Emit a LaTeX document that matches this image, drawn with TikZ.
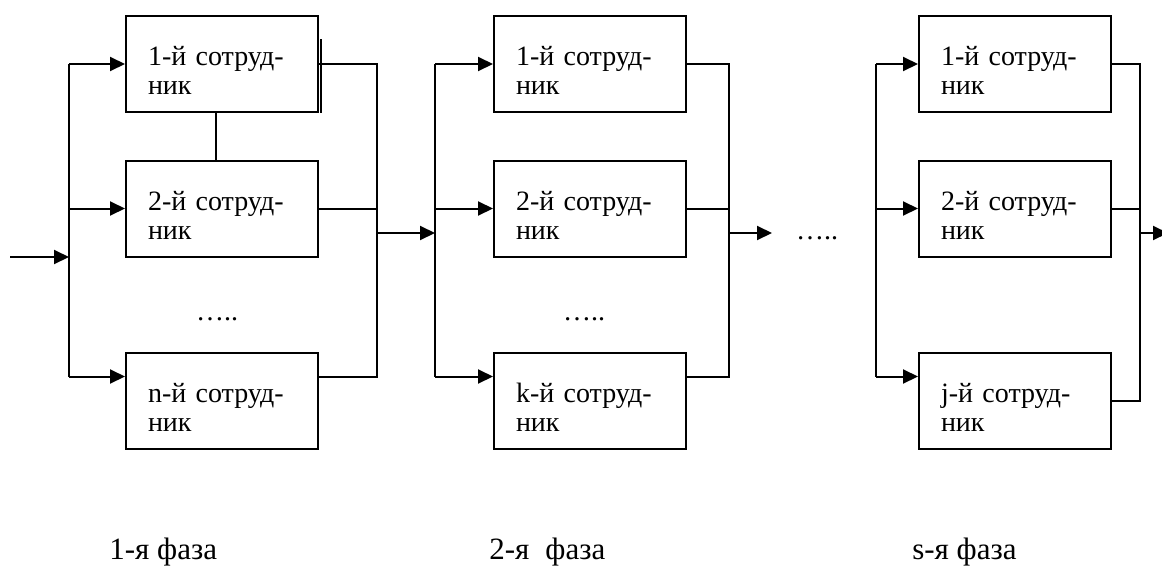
\documentclass[tikz,border=0pt]{standalone}
\usepackage{fontspec}
\setmainfont{Liberation Serif}
\usepackage{tikz}
\usetikzlibrary{positioning, calc, arrows.meta}

% text of one box
\newcommand{\sotr}[1]{\rule{0pt}{32pt}#1-й сотруд-\\ник}

\begin{document}
\begin{tikzpicture}[x = 1pt, y = -1pt, line width = 2pt,
		staff/.style = {draw, rectangle, minimum width = 192pt, minimum height = 96pt, text width = 148pt, inner xsep = 22pt, inner ysep = 0pt, align = left, font = \fontsize{28}{29}\selectfont},
		arr/.style = {-{Triangle[length = 15pt, width = 14pt]}},
		phase/.style = {anchor = base west, font = \fontsize{31}{36}\selectfont},
		gap/.style = {anchor = base, font = \fontsize{28}{30}\selectfont}]
		\useasboundingbox (0,0) rectangle (1162,565);

		% phase 1
		\node[staff] (p1a) at (222,64) {\sotr{1}};
		\node[staff] (p1b) at (222,208.5) {\sotr{2}};
		\node[staff] (p1n) at (222,400.5) {\sotr{n}};
		\node[gap] (d1) at (217,320) {…..};

		% phase 2
		\node[staff] (p2a) at (590,64) {\sotr{1}};
		\node[staff] (p2b) at (590,208.5) {\sotr{2}};
		\node[staff] (p2k) at (590,400.5) {\sotr{k}};
		\node[gap] (d2) at (584,320) {…..};

		% phase s
		\node[staff] (p3a) at (1015,64) {\sotr{1}};
		\node[staff] (p3b) at (1015,208.5) {\sotr{2}};
		\node[staff] (p3j) at (1015,400.5) {\sotr{j}};
		\node[gap] (d3) at (817,239) {…..};

		% buses
		\coordinate (start) at (10,257);
		\coordinate (bus1) at (69,257);
		\coordinate (out1) at (377,233);
		\coordinate (bus2) at (435,233);
		\coordinate (out2) at (729,233);
		\coordinate (end2) at (772,233);
		\coordinate (bus3) at (876,233);
		\coordinate (out3) at (1140,233);
		\coordinate (end3) at (1168,233);

		\coordinate (p1n-in) at ([yshift=-25pt]p1n.north west);
		\coordinate (p1n-out) at ([yshift=-25pt]p1n.north east);
		\coordinate (p2k-in) at ([yshift=-25pt]p2k.north west);
		\coordinate (p2k-out) at ([yshift=-25pt]p2k.north east);
		\coordinate (p3j-in) at ([yshift=-25pt]p3j.north west);

		% phase 1 wiring
		\draw[arr] (start) -- (bus1);
		\draw (bus1 |- p1a.west) -- (bus1 |- p1n-in);
		\draw[arr] (bus1 |- p1a.west) -- (p1a.west);
		\draw[arr] (bus1 |- p1b.west) -- (p1b.west);
		\draw[arr] (bus1 |- p1n-in) -- (p1n-in);
		\draw (p1a.east) -- (out1 |- p1a.east) -- (out1 |- p1n-out) -- (p1n-out);
		\draw (p1b.east) -- (out1 |- p1b.east);
		\draw ([xshift=-6pt]p1a.south) -- ([xshift=-6pt]p1b.north);
		\draw ([xshift=2pt,yshift=-24pt]p1a.north east) -- ([xshift=2pt]p1a.south east);
		\draw[arr] (out1) -- (bus2);

		% phase 2 wiring
		\draw (bus2 |- p2a.west) -- (bus2 |- p2k-in);
		\draw[arr] (bus2 |- p2a.west) -- (p2a.west);
		\draw[arr] (bus2 |- p2b.west) -- (p2b.west);
		\draw[arr] (bus2 |- p2k-in) -- (p2k-in);
		\draw (p2a.east) -- (out2 |- p2a.east) -- (out2 |- p2k-out) -- (p2k-out);
		\draw (p2b.east) -- (out2 |- p2b.east);
		\draw[arr] (out2) -- (end2);

		% phase s wiring
		\draw (bus3 |- p3a.west) -- (bus3 |- p3j-in);
		\draw[arr] (bus3 |- p3a.west) -- (p3a.west);
		\draw[arr] (bus3 |- p3b.west) -- (p3b.west);
		\draw[arr] (bus3 |- p3j-in) -- (p3j-in);
		\draw (p3a.east) -- (out3 |- p3a.east) -- (out3 |- p3j.east) -- (p3j.east);
		\draw (p3b.east) -- (out3 |- p3b.east);
		\draw[arr] (out3) -- (end3);

		% phase names
		\node[phase] (f1) at (105,559) {1-я фаза};
		\node[phase] (f2) at (485,559) {2-я\hspace{16pt}фаза};
		\node[phase] (f3) at (908,559) {s-я фаза};
	\end{tikzpicture}
\end{document}
